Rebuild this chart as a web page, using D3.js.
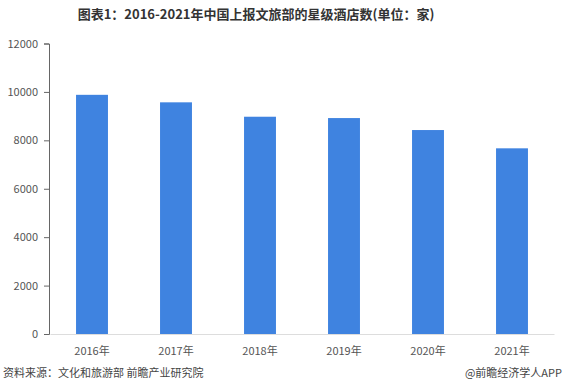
<html>
<head>
<script src="https://d3js.org/d3.v7.min.js"></script>
<style>
  body { margin: 0; background: #fff; }
  text { font-family: "Noto Sans CJK SC", "Microsoft YaHei", sans-serif; }
</style>
</head>
<body>
<svg class="vis" width="564" height="391"></svg>
<script>
const years = ["2016年", "2017年", "2018年", "2019年", "2020年", "2021年"];
const hotels = [9880, 9570, 8975, 8920, 8425, 7670];
const yTicks = [0, 2000, 4000, 6000, 8000, 10000, 12000];

const svg = d3.select(".vis");

const xs = d3.scaleBand().domain(years).range([50, 554]).paddingInner(0.62).paddingOuter(0.31);
const ys = d3.scaleLinear().domain([0, 12000]).range([334, 43.5]);

// title
svg.append("text")
  .attr("x", 256).attr("y", 19)
  .attr("text-anchor", "middle")
  .style("font-size", "13px").style("font-weight", "bold").attr("fill", "#333")
  .text("图表1：2016-2021年中国上报文旅部的星级酒店数(单位：家)");

// bars
svg.selectAll("rect.bar")
  .data(hotels)
  .enter().append("rect")
  .attr("class", "bar")
  .attr("x", (d, i) => xs(years[i]))
  .attr("y", d => ys(d))
  .attr("width", xs.bandwidth())
  .attr("height", d => ys(0) - ys(d))
  .attr("fill", "#3f83e0");

// y axis
const yAxis = svg.append("g")
  .attr("transform", "translate(49,0)")
  .call(d3.axisLeft(ys).tickValues(yTicks).tickFormat(d3.format("d")).tickSize(5).tickPadding(6));
yAxis.select(".domain").attr("stroke", "#666");
yAxis.selectAll(".tick line").attr("stroke", "#666");
yAxis.selectAll(".tick text").attr("fill", "#555").style("font-size", "11px");

// x axis
const xAxis = svg.append("g")
  .attr("transform", "translate(0,334)")
  .call(d3.axisBottom(xs).tickSize(0).tickPadding(13).tickSizeOuter(0));
xAxis.select(".domain").attr("stroke", "#ddd");
xAxis.selectAll(".tick text").attr("fill", "#555").style("font-size", "11px");

// footer
svg.append("text")
  .attr("x", 3).attr("y", 377)
  .attr("fill", "#444").style("font-size", "11px")
  .text("资料来源：文化和旅游部 前瞻产业研究院");
svg.append("text")
  .attr("x", 562).attr("y", 377)
  .attr("text-anchor", "end")
  .attr("fill", "#444").style("font-size", "11px")
  .text("@前瞻经济学人APP");
</script>
</body>
</html>
